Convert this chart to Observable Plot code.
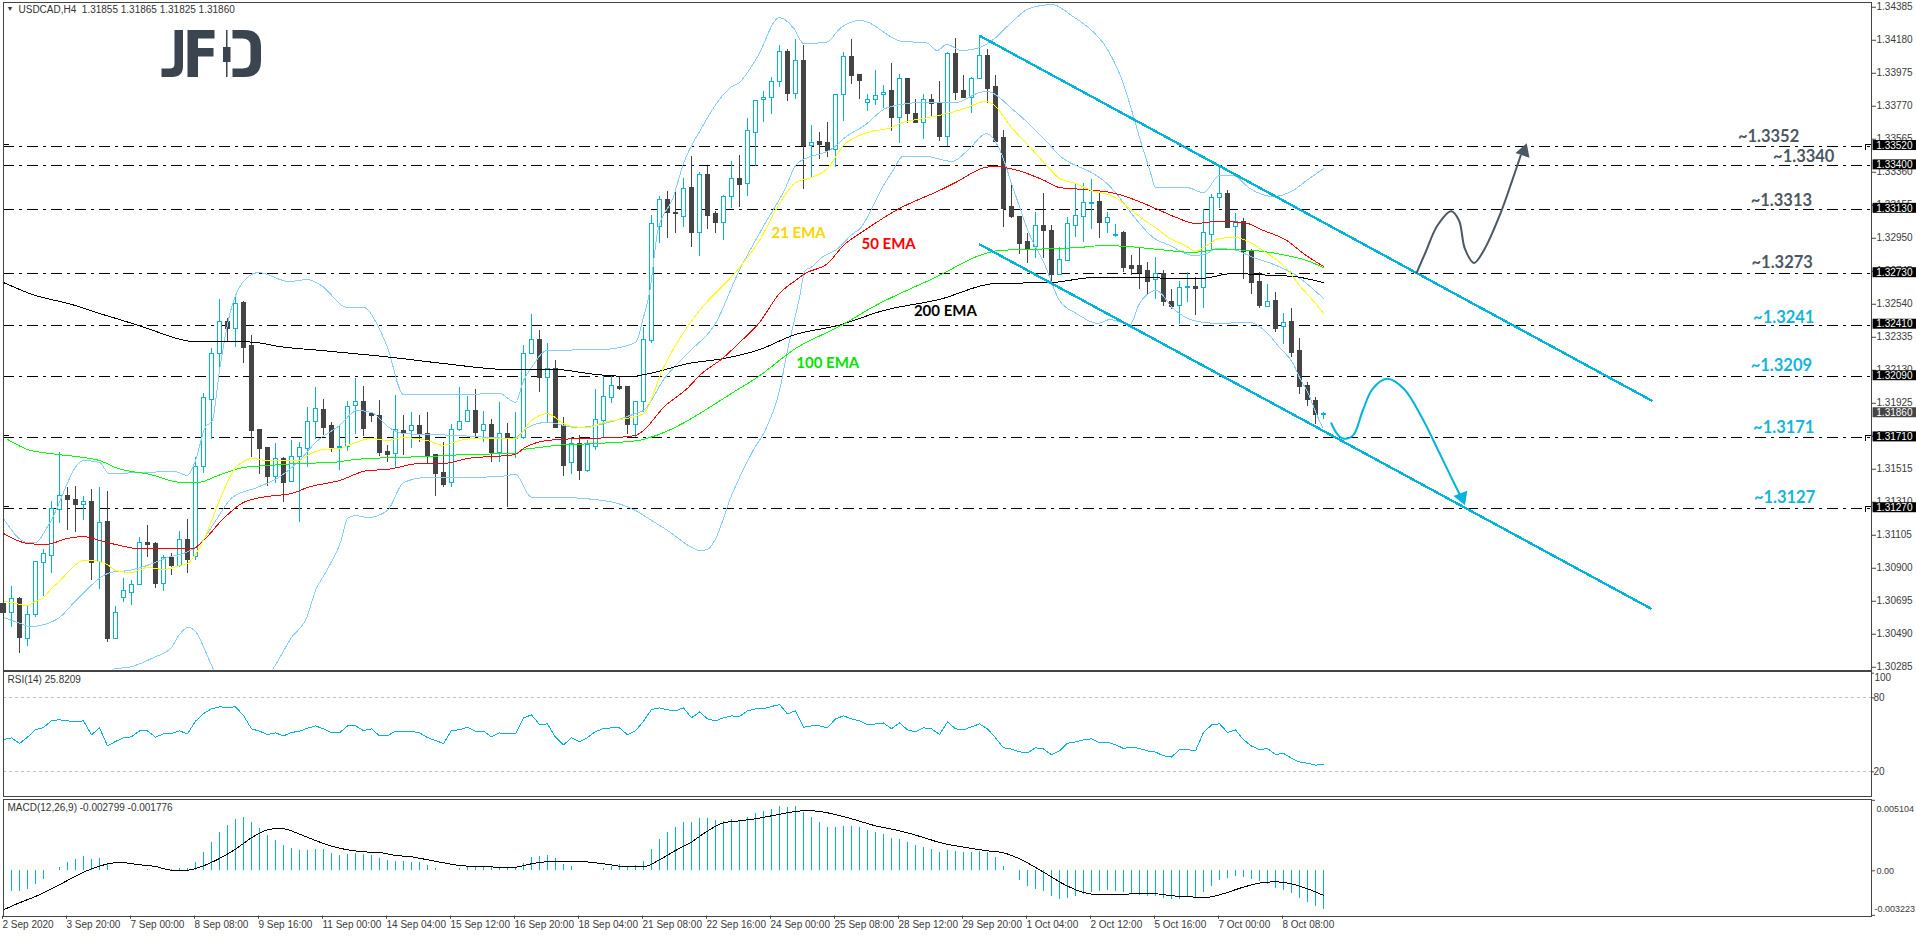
<!DOCTYPE html>
<html><head><meta charset="utf-8">
<script src="https://cdn.jsdelivr.net/npm/d3@7"></script>
<script src="https://cdn.jsdelivr.net/npm/@observablehq/plot@0.6"></script>
<style>
html,body{margin:0;padding:0;background:#fff;width:1916px;height:936px;overflow:hidden}
#main,#rsi,#macd,#logo{position:absolute;left:0}
#main{top:0}#rsi{top:670px}#macd{top:798px}#logo{top:0}
svg{display:block}
</style></head><body>
<div id="main"></div><div id="rsi"></div><div id="macd"></div>
<svg id="logo" width="300" height="90" viewBox="0 0 300 90">
<path d="M174.5 30h8.5v36q0 11-11 11h-10.5v-8.5h8q5 0 5-4.5z" style="fill:#3a454f"/>
<path d="M187.5 30h27v8.5h-16.5v9.5h15.5v8.5h-15.500v20.500h-10.500z" style="fill:#3a454f"/>
<path d="M226 30h1.500v17h3v15h-3v15h-1.500v-15h-3v-15h3z" style="fill:#3a454f"/>
<path d="M232.500 30h12q16.500 0 16.500 16v15q0 16-16.500 16h-12v-8.500h10q8 0 8-7.500v-15q0-7.500-8-7.500h-10z" style="fill:#3a454f"/>
</svg>
<script>
// ---------- candles, in MT4 points (1e-5) ----------
const opens=[130681,130625,130706,130458,130607,130930,130979,131265,131352,131327,131296,131309,130936,131190,130458,130718,130749,130799,131054,131048,130805,130961,130917,131073,130967,131526,131948,132234,132427,132389,132545,132278,131756,131644,131464,131576,131433,131594,131638,131806,131886,131781,131644,131656,131905,131930,131861,131843,131625,131607,131750,131750,131781,131737,131601,131489,131427,131756,131806,131880,131750,131793,131619,131737,131706,131712,132228,132321,132085,132135,131781,131557,131675,131507,131656,131812,131955,132023,132023,131787,131930,132309,133023,133185,133104,133085,133265,132980,133340,133098,133042,133209,133321,133284,133607,133812,133824,133918,134110,133849,134054,133526,133545,133539,133501,133843,134073,133967,133793,133812,133837,133862,133700,133942,133725,133669,133806,133793,133582,134092,133862,133824,133942,134085,133887,133570,133147,133085,132924,132893,133029,132998,132719,132806,133029,133085,133160,133178,133042,132967,132980,132775,132775,132744,132688,132731,132557,132532,132638,132650,132638,132973,133203,133228,133017,133048,132868,132681,132526,132563,132396,132427,132247,132035,131942,131855];
const highs=[130954,130787,130718,130669,130936,131017,131315,131619,131402,131408,131346,131389,131402,131377,130663,130836,130824,131091,131166,131060,130979,130992,131128,131203,131588,131986,132265,132570,132452,132588,132557,132346,131756,131644,131675,131588,131694,131681,131899,132023,131948,131806,131781,131936,132079,132029,131868,131942,131663,131973,131849,131868,131849,131868,131601,131681,131793,132023,131967,132011,131874,131824,131930,131799,131868,132284,132476,132377,132296,132191,131837,131712,131725,131694,132011,132091,132091,132091,132029,131930,132396,133091,133209,133240,133240,133321,133458,133359,133396,133116,133216,133427,133464,133694,133800,133862,133949,134147,134123,134185,134147,133650,133607,133669,133843,134104,134185,133967,133843,133992,133899,134036,133967,133942,133812,133843,133843,133924,134104,134191,133961,133949,134210,134123,133961,133619,133278,133085,132980,133110,133228,133029,132893,133079,133290,133290,133315,133234,133110,133036,132992,132843,132886,132799,132831,132750,132632,132681,132737,132706,133129,133222,133396,133247,133104,133073,132880,132737,132663,132613,132483,132514,132327,132054,131961,131865];
const lows=[130544,130532,130371,130414,130594,130725,130868,131178,131135,131122,131197,130824,130768,130439,130458,130687,130669,130799,130967,130774,130756,130855,130905,130868,130948,131489,131700,132110,132302,132271,132172,131588,131483,131408,131427,131309,131433,131184,131526,131700,131725,131619,131507,131625,131731,131719,131806,131594,131557,131526,131601,131644,131681,131551,131346,131402,131402,131750,131806,131719,131681,131557,131557,131277,131582,131700,132228,131992,131806,131768,131470,131483,131445,131495,131632,131712,131924,132004,131731,131712,131868,132296,132917,132949,132980,133017,132893,132837,133004,132980,132936,133135,133141,133209,133396,133669,133719,133887,133800,133812,133253,133321,133439,133452,133390,133675,133905,133812,133737,133775,133756,133613,133539,133663,133663,133564,133706,133551,133520,133806,133824,133725,133942,133787,133545,133017,133073,132849,132793,132824,132824,132675,132719,132806,132955,132924,133004,132949,132980,132955,132737,132719,132632,132601,132570,132526,132507,132414,132551,132470,132514,132868,133135,133011,132868,132694,132601,132514,132526,132365,132290,132209,131979,131905,131793,131825];
const closes=[130619,130706,130464,130607,130936,130986,131271,131352,131321,131296,131309,130930,131184,130458,130619,130756,130793,131054,131042,130805,130961,130917,131073,130954,131526,131955,132234,132427,132389,132539,132271,131750,131638,131464,131576,131427,131594,131650,131806,131892,131774,131644,131656,131899,131930,131768,131843,131613,131601,131762,131743,131781,131731,131594,131483,131420,131762,131806,131874,131743,131793,131619,131737,131706,131712,132228,132321,132085,132135,131774,131538,131675,131507,131663,131818,131961,132035,132011,131787,131930,132315,133036,133185,133104,133098,133259,132980,133346,133091,133042,133209,133321,133278,133619,133800,133824,133918,134104,133849,134054,133526,133539,133532,133495,133837,134073,133961,133924,133812,133831,133855,133700,133942,133719,133669,133806,133781,133582,134092,133855,133824,133942,134085,133880,133551,133129,133079,132917,132886,133029,132998,132719,132812,133036,133091,133166,133172,133042,133073,132973,132768,132762,132737,132681,132725,132557,132526,132644,132650,132632,132980,133203,133228,133011,133048,132862,132669,132532,132557,132389,132421,132240,132029,131948,131849,131860];

// ---------- indicators read at their visible turning points: [bar, points] ----------
const ema21=[[0,130694],[1,130687],[3,130669],[4,130694],[5,130718],[6,130774],[7,130818],[8,130874],[10,130948],[11,130948],[13,130923],[14,130886],[16,130874],[18,130905],[20,130892],[22,130917],[23,130930],[24,130986],[25,131073],[27,131321],[29,131526],[30,131563],[31,131582],[33,131569],[35,131569],[37,131569],[38,131601],[40,131638],[42,131644],[44,131681],[46,131706],[48,131694],[50,131712],[53,131694],[55,131663],[57,131694],[59,131706],[63,131706],[64,131706],[66,131818],[68,131861],[70,131799],[71,131781],[73,131774],[75,131806],[79,131843],[80,131861],[82.5,132147],[85,132365],[87,132501],[92,132768],[94.5,132936],[97,133166],[99,133296],[101,133327],[103,133383],[105,133526],[107.6,133601],[111,133638],[112.4,133669],[115,133694],[118,133725],[120.5,133762],[122.7,133800],[123.6,133787],[126,133638],[128.7,133495],[130.6,133390],[132,133321],[134,133290],[136,133247],[139,133203],[140.6,133141],[142.3,133073],[144,133017],[145.8,132949],[147.7,132905],[149,132868],[150.4,132905],[152,132949],[154,132955],[155.8,132924],[158,132855],[160.4,132762],[162,132657],[163.7,132563],[165,132483]];
const ema50=[[0,131116],[3,131054],[5.3,131048],[8,131085],[10,131097],[12,131073],[14.5,131042],[16.7,131023],[21,131023],[23.7,131023],[25,131073],[27.5,131209],[30,131309],[33,131346],[36,131364],[38,131402],[42,131445],[45.5,131507],[48,131514],[52,131551],[55,131551],[58,131582],[63,131601],[64,131607],[65,131644],[68,131694],[72,131706],[76.5,131712],[79,131725],[80,131756],[82.5,131899],[85.6,132023],[87,132097],[90,132209],[92,132302],[94.5,132427],[97,132607],[99,132688],[100.2,132731],[103,132793],[105,132905],[107.6,132998],[112,133135],[117,133247],[119,133296],[122.7,133390],[124,133396],[126.8,133371],[130.1,133309],[132,133265],[135,133253],[139,133228],[141.6,133185],[144,133135],[146.6,133079],[149,133042],[151.6,133054],[155,133048],[157.5,132998],[160.4,132936],[162.5,132855],[165,132775]];
const ema100=[[0.5,131700],[3,131638],[5.8,131613],[10,131588],[12,131569],[14.3,131520],[18.3,131483],[22.3,131433],[24.3,131433],[26.8,131476],[30,131526],[33,131538],[37,131551],[41,131557],[44,131576],[48.7,131588],[53,131594],[58,131607],[64,131613],[65,131638],[67,131650],[69,131663],[74,131675],[79.4,131694],[80.8,131712],[92,132017],[94.2,132085],[99,132265],[104.7,132408],[109,132532],[117,132719],[122,132843],[124.4,132874],[131.5,132886],[134.5,132893],[137.5,132905],[140.4,132899],[144.5,132880],[148.7,132862],[151.6,132880],[156.2,132874],[160.4,132843],[162.9,132812],[165,132768]];
const ema200=[[0,132675],[3.6,132601],[8.5,132539],[12,132483],[16.5,132414],[18.7,132377],[23.7,132309],[26.3,132309],[29,132309],[31.7,132302],[34.4,132278],[39.7,132253],[48.7,132209],[55,132172],[63,132135],[69,132135],[74,132104],[78.4,132091],[80.8,132110],[85.6,132172],[90,132203],[94.2,132253],[99,132352],[104.3,132408],[110,132501],[117,132570],[123.9,132669],[131,132675],[136.2,132706],[142.5,132706],[146.6,132700],[149.6,132700],[153.7,132731],[158.7,132719],[161.2,132713],[165,132675]];
const bbUpper=[[0,131209],[3,131060],[4,131060],[5.6,131166],[10,131569],[12,131557],[13.2,131489],[17.4,131495],[21.4,131501],[23,131476],[24,131569],[25.2,131774],[26.1,131818],[27,132129],[28.1,132439],[30.1,132688],[31.9,132737],[35.7,132681],[38,132694],[39.7,132657],[43,132520],[45,132520],[46.9,132396],[48,132271],[50,131979],[57.1,131979],[62,131986],[64,131930],[65,132066],[66,132147],[67.9,132253],[75,132259],[79,132302],[80,132458],[80.8,132626],[81.8,132998],[83.7,133203],[85,133414],[87.3,133638],[89.4,133806],[90.9,133887],[92,133918],[94.2,134073],[97,134321],[98.8,134253],[100,134160],[102.8,134166],[104.7,134259],[107.1,134303],[112.4,134172],[115.3,134166],[116.7,134116],[117.9,134154],[119.8,134116],[122,134135],[123.9,134191],[125.6,134272],[128.2,134377],[131.1,134402],[133.5,134334],[136.3,134228],[137.5,134160],[139.6,133961],[142.5,133495],[143.3,133371],[144,133265],[147.9,133265],[150,133234],[152,133340],[153.7,133340],[155.8,133259],[158.7,133209],[161.2,133247],[162.9,133309],[165,133383]];
const bbMiddle=[[0,130594],[1.8,130563],[3.4,130538],[5.1,130551],[7,130594],[8.7,130681],[10.7,130781],[12.3,130849],[13.4,130874],[15.6,130886],[18.3,130923],[20.5,130967],[22.8,130998],[24.6,131054],[26.3,131178],[28.6,131340],[31.7,131402],[34.4,131464],[37,131569],[39,131681],[42,131787],[44.2,131880],[46,131868],[48.2,131774],[50,131737],[56.7,131725],[61,131712],[63.8,131706],[65.5,131774],[67.9,131806],[71.7,131774],[74,131787],[79,131861],[80,131880],[82.7,132085],[85.6,132240],[89,132421],[91.8,132731],[95.2,133042],[97.6,133247],[99.2,133414],[103.8,133514],[105.2,133576],[107.6,133650],[110.5,133762],[114.8,133793],[119,133793],[122,133855],[122.9,133862],[126.3,133744],[130.6,133539],[132,133464],[136.2,133352],[137.5,133309],[139.1,133228],[141.2,133091],[143.7,132955],[145.8,132905],[148.7,132843],[150.4,132855],[151.6,132886],[153.7,132880],[156.2,132831],[159.1,132781],[161.2,132731],[165,132576]];
const bbLower=[[12,130203],[14,130277],[15.6,130284],[18.8,130346],[21,130408],[21.9,130482],[23.1,130532],[24.1,130501],[25.2,130389],[26.2,130277],[28,130141],[31,130141],[33.7,130277],[36,130470],[37.9,130594],[39,130762],[40.4,130886],[42.2,131073],[43,131209],[44,131228],[45.5,131215],[48,131259],[50,131433],[53,131464],[57.6,131464],[62,131470],[64,131483],[66,131340],[69.6,131340],[75,131321],[79,131259],[81,131197],[83,131135],[84.7,131073],[85.8,131035],[87.1,131010],[88,131017],[88.9,131073],[91,131352],[93.7,131632],[95.2,131756],[97,132004],[98,132253],[99.5,132582],[100.2,132750],[100.9,132768],[102.3,132831],[104.3,132886],[106.2,132980],[107.1,133011],[108.6,133141],[110,133278],[111.2,133371],[112.4,133458],[115.3,133458],[118.6,133427],[120.5,133495],[122.9,133601],[124.4,133514],[126.3,133247],[128.2,132980],[130.1,132793],[132,132563],[134.1,132483],[136.8,132421],[138.3,132445],[140.8,132414],[142,132545],[143.3,132613],[144.1,132626],[146.2,132514],[148.7,132439],[151.6,132421],[155.8,132427],[157.9,132365],[159.5,132271],[161.2,132172],[162,132085],[163.1,131986],[164.1,131861],[164.9,131774]];

// ---------- price levels and drawings ----------
const levels=[1.3352,1.3340,1.3313,1.3273,1.3241,1.3209,1.3171,1.3127];
const flagged=[1.3352,1.3171,1.3127];
const priceTicks=[1.34385,1.34180,1.33975,1.33770,1.33565,1.33360,1.33155,1.32950,1.32745,1.32540,1.32335,1.32130,1.31925,1.31720,1.31515,1.31310,1.31105,1.30900,1.30695,1.30490,1.30285];
const channelUpper=[[122.05,1.34207],[206.0,1.31942]];
const channelLower=[[122.05,1.32911],[205.9,1.30650]];
const arrowUp=[[176.64,1.32735],[177.76,1.32863],[179.24,1.33029],[180.97,1.33118],[181.94,1.33060],[182.68,1.32884],[183.81,1.32797],[185.14,1.32884],[187.1,1.33102],[188.58,1.33308],[189.65,1.33464]];
const arrowDown=[[165.97,1.31801],[166.71,1.31735],[167.44,1.31706],[168.67,1.31724],[169.91,1.31880],[171.14,1.32014],[172.95,1.32077],[175.06,1.32014],[177.28,1.31838],[179.24,1.31642],[180.97,1.31465],[182.09,1.31352]];
const levelLabels=[{t:"~1.3352",x:216.8,y:1.33582,c:"#4b5863"},{t:"~1.3340",x:221.2,y:1.33458,c:"#4b5863"},{t:"~1.3313",x:218.4,y:1.33184,c:"#4b5863"},{t:"~1.3273",x:218.5,y:1.32799,c:"#4b5863"},{t:"~1.3241",x:218.7,y:1.32457,c:"#12b5dc"},{t:"~1.3209",x:218.4,y:1.32159,c:"#12b5dc"},{t:"~1.3171",x:218.7,y:1.31774,c:"#12b5dc"},{t:"~1.3127",x:218.8,y:1.31339,c:"#12b5dc"}];
const emaLabels=[{t:"21 EMA",x:96,y:1.32981,c:"#ffd400"},{t:"50 EMA",x:107.25,y:1.32911,c:"#ff0000"},{t:"100 EMA",x:99.1,y:1.32174,c:"#00e400"},{t:"200 EMA",x:113.8,y:1.32495,c:"#000000"}];
const priceBoxes=[{v:1.3352,c:"#000"},{v:1.3340,c:"#000"},{v:1.3313,c:"#000"},{v:1.3273,c:"#000"},{v:1.3241,c:"#000"},{v:1.3209,c:"#000"},{v:1.3186,c:"#444"},{v:1.3171,c:"#000"},{v:1.3127,c:"#000"}];

// ---------- RSI and MACD ----------
const rsi=[46.2,47.6,43,48.1,54.3,55.9,61.6,62.2,61.4,60.5,61.4,50,55.7,41.1,44.6,47.6,48.4,53.2,53.2,48.1,50.8,51.1,53.2,50.8,61.1,67.3,71.1,72.7,72.4,72.7,65.7,54.9,53,50.3,51.6,49.2,51.9,53,55.4,57.3,54.9,51.6,51.6,57.3,57.3,53.5,54.9,49.2,49.2,53,52.4,53,51.6,47.8,45.4,43,53.5,54.1,56.2,53,53,48.4,51.6,50.8,50.8,63.8,66.2,58.4,58.9,48.1,41.9,47.6,44.3,47.8,52.7,55.1,55.7,55.7,50,53.2,61.1,70.5,71.9,70.3,69.5,71.9,63.8,68.6,63,61.4,63.8,65.4,64.9,69.5,71.1,71.1,73,74.6,67,69.5,56.2,57.3,57.3,55.7,63,65.4,63,61.4,58.1,58.9,59.7,54.9,59.7,54.1,52.4,55.7,54.9,50.3,60.5,54.9,54.1,56.5,58.9,54.9,47.6,39.5,38.4,36.2,35.4,39.5,38.6,33.8,37,43.2,44.3,45.9,46.8,43.5,44,42,39,40,39,37,36,33,32,38,38,37,52,58,59,52,54,46,41,38,39,34,35,31,28,27,25.5,25.82];
const rsiLevels=[80,20];
const macdMain=[-1713,-1496,-1472,-1351,-989,-627,48,241,603,820,1038,820,893,458,48,5,24,24,97,24,48,97,145,169,603,1327,2051,2775,3282,3716,3861,3499,3065,2558,2196,1834,1617,1472,1472,1544,1544,1255,1110,1182,1255,1182,1110,893,748,676,676,603,603,386,169,5,48,169,338,314,241,265,217,169,169,531,965,1038,1110,893,458,314,24,5,5,169,314,458,314,386,676,1544,2268,2775,3137,3499,3499,3788,3788,3644,3571,3716,3571,3861,4150,4295,4440,4657,4585,4657,4223,3861,3499,3137,3137,3209,3209,3137,2920,2775,2630,2341,2268,2051,1834,1689,1544,1327,1472,1400,1327,1327,1400,1327,965,314,24,-700,-1134,-1351,-1496,-1858,-2075,-2003,-1858,-1713,-1568,-1496,-1424,-1496,-1568,-1713,-1786,-1858,-1858,-2003,-2075,-2075,-1930,-1930,-1568,-1134,-700,-555,-410,-483,-627,-772,-989,-1279,-1424,-1641,-2003,-2292,-2582,-2799];
const macdSignal=[[0,-2823],[2,-2316],[4,-1858],[6,-1303],[8,-700],[10,-97],[12,338],[14,579],[15,579],[17,434],[19,314],[21,48],[23,48],[25,362],[27,893],[29,1568],[31,2389],[33,2968],[34,3040],[35,3040],[37,2654],[39,2196],[41,1786],[43,1520],[45,1375],[47,1327],[49,1110],[51,1013],[53,796],[55,579],[57,386],[59,314],[61,290],[62,217],[64,265],[66,507],[68,652],[72,676],[75,507],[78,290],[80,290],[82,796],[84,1472],[86,2075],[87,2485],[88,2871],[90,3475],[92,3620],[94,3764],[96,3981],[98,4199],[100,4343],[101,4343],[103,4199],[106,3764],[109,3258],[112,2896],[115,2413],[117,2051],[120,1713],[123,1448],[125,1303],[127,869],[130,-97],[133,-1110],[135,-1568],[137,-1737],[140,-1737],[141,-1665],[144,-1665],[146,-1810],[148,-1858],[150,-1955],[152,-1737],[155,-1182],[157,-893],[159,-796],[161,-941],[163,-1303],[165,-1776]];
const dateBars=[0,8,16,24,32,40,48,56,64,72,80,88,96,104,112,120,128,136,144,152,160];
const dateLabels=["2 Sep 2020","3 Sep 20:00","7 Sep 00:00","8 Sep 08:00","9 Sep 16:00","11 Sep 00:00","14 Sep 04:00","15 Sep 12:00","16 Sep 20:00","18 Sep 04:00","21 Sep 08:00","22 Sep 16:00","24 Sep 00:00","25 Sep 08:00","28 Sep 12:00","29 Sep 20:00","1 Oct 04:00","2 Oct 12:00","5 Oct 16:00","7 Oct 00:00","8 Oct 08:00"];

// ---------- build ----------
const W=1916, FONT="Liberation Sans", LABEL="Lato", CY="#00b4dc", DK="#444444", TXT="#3a3a3a";
const CRISP="crispEdges";
const xScale={domain:[0,233.5],axis:null};
const style={fontFamily:FONT,fontSize:"10px",background:"transparent",overflow:"visible"};
const bars=opens.map((o,i)=>({i,o:o/1e5,h:highs[i]/1e5,l:lows[i]/1e5,c:closes[i]/1e5,up:closes[i]>=o}));
const smooth=(arr,stroke)=>Plot.line(arr,{x:d=>d[0],y:d=>d[1]/1e5,stroke,strokeWidth:1,curve:"monotone-x",clip:true,shapeRendering:CRISP});
const flagH=0.00014;

const main=Plot.plot({width:W,height:670,marginLeft:3,marginRight:45,marginTop:2,marginBottom:0.5,style,
 x:xScale,y:{domain:[1.30268,1.344146],axis:null},
 marks:[
  Plot.axisY({anchor:"right",ticks:priceTicks,tickFormat:d=>d.toFixed(5),tickSize:4,tickPadding:1,label:null,fill:TXT,stroke:"#444"}),
  Plot.ruleY(levels,{stroke:"#000",strokeWidth:1,strokeDasharray:"11,5,3,5",shapeRendering:CRISP}),
  Plot.ruleY(flagged,{y:d=>d+flagH,x1:0,x2:0.75,stroke:"#000",shapeRendering:CRISP}),
  Plot.ruleX(flagged,{x:()=>0,y1:d=>d+flagH,y2:d=>d,stroke:"#000",shapeRendering:CRISP}),
  Plot.ruleY(flagged,{y:d=>d+flagH,x1:232.75,x2:233.5,stroke:"#000",shapeRendering:CRISP}),
  Plot.ruleX(flagged,{x:()=>232.75,y1:d=>d+flagH,y2:d=>d-0.00025,stroke:"#000",shapeRendering:CRISP}),
  Plot.ruleX(bars,{x:"i",y1:"l",y2:"h",stroke:d=>d.up?CY:DK,strokeWidth:1,shapeRendering:CRISP}),
  Plot.rect(bars,{x1:d=>d.i-0.25,x2:d=>d.i+0.25,y1:"o",y2:"c",fill:d=>d.up?"#fff":DK,stroke:d=>d.up?CY:DK,strokeWidth:1,shapeRendering:CRISP}),
  smooth(bbUpper,"#87cefa"),smooth(bbMiddle,"#87cefa"),smooth(bbLower,"#87cefa"),
  smooth(ema200,"#000000"),smooth(ema100,"#00ff00"),smooth(ema50,"#ff0000"),smooth(ema21,"#ffff00"),
  Plot.line(channelUpper,{x:d=>d[0],y:d=>d[1],stroke:CY,strokeWidth:2.4,shapeRendering:CRISP}),
  Plot.line(channelLower,{x:d=>d[0],y:d=>d[1],stroke:CY,strokeWidth:2.4,shapeRendering:CRISP}),
  Plot.line(arrowUp,{x:d=>d[0],y:d=>d[1],stroke:"#4b5863",strokeWidth:2,curve:"catmull-rom"}),
  Plot.dot([[190.05,1.33490]],{x:d=>d[0],y:d=>d[1],symbol:"triangle",r:5.5,rotate:19,fill:"#4b5863",stroke:"none"}),
  Plot.line(arrowDown,{x:d=>d[0],y:d=>d[1],stroke:CY,strokeWidth:2,curve:"catmull-rom"}),
  Plot.dot([[182.3,1.31341]],{x:d=>d[0],y:d=>d[1],symbol:"triangle",r:5.5,rotate:159,fill:CY,stroke:"none"}),
  Plot.text(levelLabels,{x:"x",y:"y",text:"t",fill:"c",textAnchor:"start",fontFamily:LABEL,fontWeight:700,fontSize:16.5}),
  Plot.text(emaLabels,{x:"x",y:"y",text:"t",fill:"c",textAnchor:"start",fontFamily:LABEL,fontWeight:700,fontSize:15}),
  Plot.rect(priceBoxes,{x1:233.7,x2:239.2,y1:d=>d.v-0.00025,y2:d=>d.v+0.00037,fill:"c"}),
  Plot.text(priceBoxes,{x:234.1,y:d=>d.v+0.00006,text:d=>d.v.toFixed(5),fill:"#fff",textAnchor:"start",fontSize:10}),
  Plot.text(["\u25BC"],{frameAnchor:"top-left",dx:3,dy:4,lineAnchor:"top",textAnchor:"start",fill:"#333",fontSize:7}),
  Plot.text(["USDCAD,H4  1.31855 1.31865 1.31825 1.31860"],{frameAnchor:"top-left",dx:15,dy:3,lineAnchor:"top",textAnchor:"start",fill:"#333",fontSize:10}),
  Plot.frame({stroke:"#444",strokeWidth:1,shapeRendering:CRISP})
 ]});
document.getElementById("main").append(main);

const rsiPlot=Plot.plot({width:W,height:127,marginLeft:3,marginRight:45,marginTop:1,marginBottom:1,style,
 x:xScale,y:{domain:[0,101.4],axis:null},
 marks:[
  Plot.axisY({anchor:"right",ticks:[100,80,20],tickFormat:d=>d===100?"":d,tickSize:2,tickPadding:0,label:null,fill:TXT,stroke:"#444"}),
  Plot.text(["100"],{x:()=>233.5,y:()=>100,dx:3,dy:5,textAnchor:"start",fill:TXT}),
  Plot.ruleY(rsiLevels,{stroke:"#c0c0c0",strokeDasharray:"3,3",shapeRendering:CRISP}),
  Plot.line(rsi,{x:(d,i)=>i,y:d=>d,stroke:CY,strokeWidth:1,shapeRendering:CRISP}),
  Plot.text(["RSI(14) 25.8209"],{frameAnchor:"top-left",dx:4,dy:4,lineAnchor:"top",textAnchor:"start",fill:"#333",fontSize:10}),
  Plot.frame({stroke:"#444",strokeWidth:1,shapeRendering:CRISP})
 ]});
document.getElementById("rsi").append(rsiPlot);

const macdPlot=Plot.plot({width:W,height:138,marginLeft:3,marginRight:45,marginTop:0.7,marginBottom:20.3,style,
 x:xScale,y:{domain:[-0.003287,0.005184],axis:null},
 marks:[
  Plot.axisY({anchor:"right",ticks:[0.005104,0,-0.003223],tickFormat:()=>"",tickSize:3,label:null,stroke:"#444"}),
  Plot.text(["0.005104"],{x:()=>233.5,y:()=>0.005104,dx:5,dy:9,textAnchor:"start",fill:TXT,fontSize:9}),
  Plot.text(["0.00"],{x:()=>233.5,y:()=>0,dx:5,textAnchor:"start",fill:TXT,fontSize:9}),
  Plot.text(["-0.003223"],{x:()=>233.5,y:()=>-0.003223,dx:3,dy:-6,textAnchor:"start",fill:TXT,fontSize:9}),
  Plot.axisX({anchor:"bottom",ticks:dateBars,tickFormat:(d)=>dateLabels[dateBars.indexOf(d)],tickSize:3,tickPadding:2,textAnchor:"start",dx:-1,label:null,fill:TXT,stroke:"#444"}),
  Plot.ruleX(macdMain,{x:(d,i)=>i,y1:()=>0,y2:d=>d/1e6,stroke:CY,strokeWidth:1,shapeRendering:CRISP}),
  Plot.line(macdSignal,{x:d=>d[0],y:d=>d[1]/1e6,stroke:"#000",strokeWidth:1,curve:"monotone-x",shapeRendering:CRISP}),
  Plot.text(["MACD(12,26,9) -0.002799 -0.001776"],{frameAnchor:"top-left",dx:4,dy:5,lineAnchor:"top",textAnchor:"start",fill:"#333",fontSize:10}),
  Plot.frame({stroke:"#444",strokeWidth:1,shapeRendering:CRISP})
 ]});
document.getElementById("macd").append(macdPlot);
</script></body></html>
